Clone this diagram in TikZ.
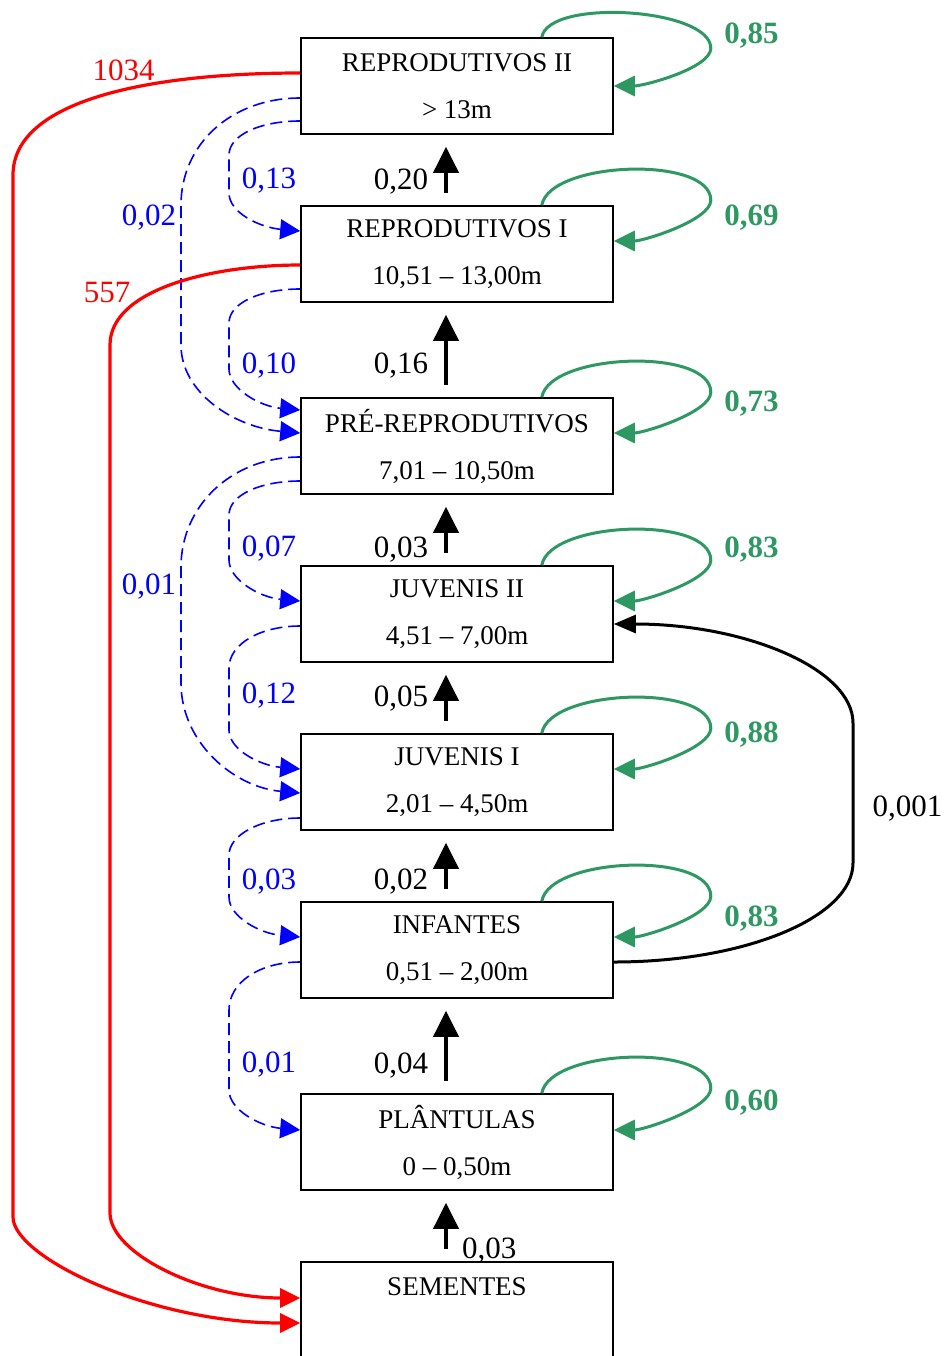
\documentclass[tikz,border=0pt]{standalone}
\usepackage{fontspec}
\setmainfont{Liberation Serif}
\usepackage{xcolor}
\usepackage{tikz}
\usetikzlibrary{arrows.meta, positioning}

\definecolor{stasisgreen}{RGB}{46,152,98}

\begin{document}
\begin{tikzpicture}[
        x=0.5pt, y=-0.5pt,
        node distance=35.2pt,
        stagebox/.style={rectangle, draw, line width=0.8pt, minimum width=156pt, minimum height=48pt, align=center, font=\fontsize{13.5}{23.5}\selectfont},
        growth/.style={-{Triangle[length=13pt,width=12.5pt]}, line width=2pt, shorten <=6pt, shorten >=6pt},
        stasis/.style={-{Triangle[length=10.5pt,width=10pt]}, line width=1.5pt, stasisgreen},
        regress/.style={-{Triangle[length=10pt,width=10pt]}, line width=0.8pt, blue, dash pattern=on 6pt off 3pt},
        fecund/.style={-{Triangle[length=10pt,width=9.5pt]}, line width=1.6pt, red},
        jump/.style={-{Triangle[length=11pt,width=9pt]}, line width=1.5pt},
        rate/.style={font=\fontsize{15.5}{18}\selectfont, inner sep=2pt, yshift=-1.5pt},
        stayrate/.style={font=\fontsize{15.5}{18}\selectfont\bfseries, inner sep=2pt, right=4pt}
    ]
    \useasboundingbox (0,0) rectangle (944,1356);

    % Size classes
    \node[stagebox] (rII) at (457,86) {REPRODUTIVOS II\\> 13m};
    \node[stagebox, below=of rII] (rI) {REPRODUTIVOS I\\10,51 – 13,00m};
    \node[stagebox, below=47.2pt of rI] (pre) {PRÉ-REPRODUTIVOS\\7,01 – 10,50m};
    \node[stagebox, below=of pre] (jII) {JUVENIS II\\4,51 – 7,00m};
    \node[stagebox, below=of jII] (jI) {JUVENIS I\\2,01 – 4,50m};
    \node[stagebox, below=of jI] (inf) {INFANTES\\0,51 – 2,00m};
    \node[stagebox, below=47.2pt of inf] (pla) {PLÂNTULAS\\0 – 0,50m};
    \node[stagebox, below=of pla] (sem) {SEMENTES\\\phantom{0}};

    % Growth to the next class
    \draw[growth] ([xshift=-5.5pt]sem.north) -- node[rate, right=5pt, pos=0.19] {0,03} ([xshift=-5.5pt]pla.south);
    \draw[growth] ([xshift=-5.5pt]pla.north) -- node[rate, left=6pt, pos=0.32] {0,04} ([xshift=-5.5pt]inf.south);
    \draw[growth] ([xshift=-5.5pt]inf.north) -- node[rate, left=6pt, pos=0.32] {0,02} ([xshift=-5.5pt]jI.south);
    \draw[growth] ([xshift=-5.5pt]jI.north) -- node[rate, left=6pt, pos=0.54] {0,05} ([xshift=-5.5pt]jII.south);
    \draw[growth] ([xshift=-5.5pt]jII.north) -- node[rate, left=6pt, pos=0.26] {0,03} ([xshift=-5.5pt]pre.south);
    \draw[growth] ([xshift=-5.5pt]pre.north) -- node[rate, left=6pt, pos=0.365] {0,16} ([xshift=-5.5pt]rI.south);
    \draw[growth] ([xshift=-5.5pt]rI.north) -- node[rate, left=6pt, pos=0.375] {0,20} ([xshift=-5.5pt]rII.south);

    % Stasis loops
    \draw[stasis] ([xshift=-36pt]rII.north east) to[out=80, in=90, out distance=20pt, in distance=20pt] ([shift={(48.5pt,-5.5pt)}]rII.north east) node[stayrate, yshift=6.5pt] {0,85} to[out=-90, in=0, out distance=10pt, in distance=15pt] (rII.east);
    \draw[stasis] ([xshift=-36pt]rI.north east) to[out=80, in=90, out distance=22.5pt, in distance=22.5pt] ([shift={(48.5pt,2.5pt)}]rI.north east) node[stayrate, yshift=-8.5pt] {0,69} to[out=-90, in=0, out distance=10pt, in distance=15pt] ([yshift=6.5pt]rI.east);
    \draw[stasis] ([xshift=-36pt]pre.north east) to[out=80, in=90, out distance=22.5pt, in distance=22.5pt] ([shift={(48.5pt,2.5pt)}]pre.north east) node[stayrate, yshift=-5.5pt] {0,73} to[out=-90, in=0, out distance=10pt, in distance=15pt] ([yshift=6.5pt]pre.east);
    \draw[stasis] ([xshift=-36pt]jII.north east) to[out=80, in=90, out distance=22.5pt, in distance=22.5pt] ([shift={(48.5pt,2.5pt)}]jII.north east) node[stayrate, yshift=5.5pt] {0,83} to[out=-90, in=0, out distance=10pt, in distance=15pt] ([yshift=6.5pt]jII.east);
    \draw[stasis] ([xshift=-36pt]jI.north east) to[out=80, in=90, out distance=22.5pt, in distance=22.5pt] ([shift={(48.5pt,2.5pt)}]jI.north east) node[stayrate, yshift=-3pt] {0,88} to[out=-90, in=0, out distance=10pt, in distance=15pt] ([yshift=6.5pt]jI.east);
    \draw[stasis] ([xshift=-36pt]inf.north east) to[out=80, in=90, out distance=22.5pt, in distance=22.5pt] ([shift={(48.5pt,2.5pt)}]inf.north east) node[stayrate, yshift=-11pt] {0,83} to[out=-90, in=0, out distance=10pt, in distance=15pt] ([yshift=6.5pt]inf.east);
    \draw[stasis] ([xshift=-36pt]pla.north east) to[out=80, in=90, out distance=22.5pt, in distance=22.5pt] ([shift={(48.5pt,2.5pt)}]pla.north east) node[stayrate, yshift=-7pt] {0,60} to[out=-90, in=0, out distance=10pt, in distance=15pt] ([yshift=6pt]pla.east);

    % Regression (dashed)
    \draw[regress] ([yshift=-17.5pt]rII.west) to[out=180, in=90, out distance=20pt, in distance=10pt] (229,155) -- node[rate, right=4pt, pos=0.6] {0,13} (229,193) to[out=-90, in=175, out distance=10pt, in distance=20pt] ([yshift=11.5pt]rI.west);
    \draw[regress] ([yshift=-6pt]rII.west) to[out=180, in=90, out distance=35pt, in distance=30pt] (181,205) -- node[rate, left=0pt, pos=0.07] {0,02} (181,345) to[out=-90, in=175, out distance=24pt, in distance=33pt] ([yshift=6.5pt]pre.west);
    \draw[regress] ([yshift=-17.5pt]rI.west) to[out=180, in=90, out distance=20pt, in distance=10pt] (229,323) -- node[rate, right=4pt, pos=0.85] {0,10} (229,369) to[out=-90, in=175, out distance=10pt, in distance=20pt] ([yshift=18pt]pre.west);
    \draw[regress] ([yshift=-17.5pt]pre.west) to[out=180, in=90, out distance=20pt, in distance=10pt] (229,515) -- node[rate, right=4pt, pos=0.69] {0,07} (229,560) to[out=-90, in=175, out distance=10pt, in distance=20pt] ([yshift=6.5pt]jII.west);
    \draw[regress] ([yshift=-5.5pt]pre.west) to[out=180, in=90, out distance=35pt, in distance=30pt] (181,567) -- node[rate, left=0pt, pos=0.14] {0,01} (181,683) to[out=-90, in=175, out distance=30pt, in distance=33pt] ([yshift=-5.5pt]jI.west);
    \draw[regress] ([yshift=-6pt]jII.west) to[out=180, in=90, out distance=20pt, in distance=12pt] (229,668) -- node[rate, right=4pt, pos=0.4] {0,12} (229,730) to[out=-90, in=175, out distance=10pt, in distance=20pt] ([yshift=6.5pt]jI.west);
    \draw[regress] ([yshift=-18pt]jI.west) to[out=180, in=90, out distance=20pt, in distance=10pt] (229,855) -- node[rate, right=4pt, pos=0.55] {0,03} (229,897) to[out=-90, in=175, out distance=10pt, in distance=20pt] ([yshift=6.5pt]inf.west);
    \draw[regress] ([yshift=-6pt]inf.west) to[out=180, in=90, out distance=20pt, in distance=14pt] (229,1010) -- node[rate, right=4pt, pos=0.65] {0,01} (229,1090) to[out=-90, in=175, out distance=10pt, in distance=20pt] ([yshift=6pt]pla.west);

    % Seed production
    \draw[fecund] ([yshift=6.5pt]rII.west) to[out=180, in=90, out distance=75pt, in distance=37.5pt] node[rate, pos=0.43, above=3pt] {1034} (13,175) -- (13,1217) to[out=-90, in=180, out distance=20pt, in distance=75pt] ([yshift=-6.5pt]sem.west);
    \draw[fecund] ([yshift=-5.5pt]rI.west) to[out=180, in=90, out distance=45pt, in distance=27.5pt] node[rate, pos=0.7, above left, inner sep=1pt] {557} (110,345) -- (110,1213) to[out=-90, in=180, out distance=20pt, in distance=50pt] ([yshift=6pt]sem.west);

    % Infantes to Juvenis II
    \draw[jump] ([yshift=-6pt]inf.east) to[out=0, in=-90, out distance=66pt, in distance=27pt] (853,863) -- node[rate, right=7pt, pos=0.41] {0,001} (853,723) to[out=90, in=0, out distance=27pt, in distance=66pt] ([yshift=-5pt]jII.east);

\end{tikzpicture}
\end{document}
